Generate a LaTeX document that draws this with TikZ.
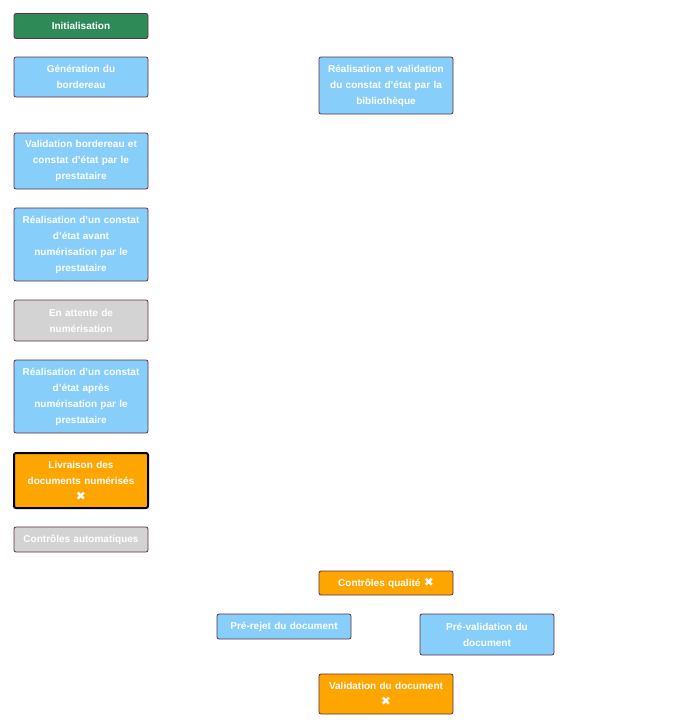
\documentclass[tikz,border=0pt]{standalone}
\usepackage{fontspec}
\setmainfont[Ligatures=NoCommon]{Liberation Sans}
\newfontfamily\symb{DejaVu Sans}
\usepackage{xcolor}
\usepackage{tikz}
\definecolor{vert}{HTML}{2E8B57}
\definecolor{bleu}{HTML}{87CEFA}
\definecolor{gris}{HTML}{D3D3D3}
\definecolor{orange}{HTML}{FFA500}
\definecolor{bordure}{HTML}{5C2E45}
\newcommand{\croix}{{\symb\fontsize{12}{16}\selectfont\char"2716}}
\newcommand{\apos}{\char"0027{}}
\tikzset{
	etape/.style={draw=bordure,line width=0.8pt,rounded corners=2pt,minimum width=134,
		text width=124,align=center,inner sep=0pt,text=white,
		font=\fontsize{10}{16}\selectfont\bfseries},
}

\begin{document}
\begin{tikzpicture}[x=1pt,y=-1pt]
	\useasboundingbox (0,0) rectangle (696,728);
	
	\node[etape,fill=vert,minimum height=25] (init) at (81,26) {Initialisation};
	\node[etape,fill=bleu,minimum height=40] (gen) at (81,77) {Génération du\\bordereau};
	\node[etape,fill=bleu,minimum height=57] (biblio) at (386,85.5) {Réalisation et validation\\du constat d\apos état par la\\bibliothèque};
	\node[etape,fill=bleu,minimum height=56] (valbord) at (81,161) {Validation bordereau et\\constat d\apos état par le\\prestataire};
	\node[etape,fill=bleu,minimum height=73] (avant) at (81,244.5) {Réalisation d\apos un constat\\d\apos état avant\\numérisation par le\\prestataire};
	\node[etape,fill=gris,minimum height=41] (attente) at (81,320.5) {En attente de\\numérisation};
	\node[etape,fill=bleu,minimum height=73] (apres) at (81,396.5) {Réalisation d\apos un constat\\d\apos état après\\numérisation par le\\prestataire};
	\node[etape,fill=orange,draw=black,line width=2pt,minimum height=55] (livr) at (81,480.5) {Livraison des\\documents numérisés\\\croix};
	\node[etape,fill=gris,minimum height=25] (auto) at (81,539.5) {Contrôles automatiques};
	
	\node[etape,fill=orange,minimum height=24] (qual) at (386,583) {Contrôles qualité \croix};
	\node[etape,fill=bleu,minimum height=25] (rejet) at (284,626.5) {Pré-rejet du document};
	\node[etape,fill=bleu,minimum height=41] (preval) at (487,634.5) {Pré-validation du\\document};
	\node[etape,fill=orange,minimum height=40] (valdoc) at (386,694) {Validation du document\\\croix};
\end{tikzpicture}
\end{document}
